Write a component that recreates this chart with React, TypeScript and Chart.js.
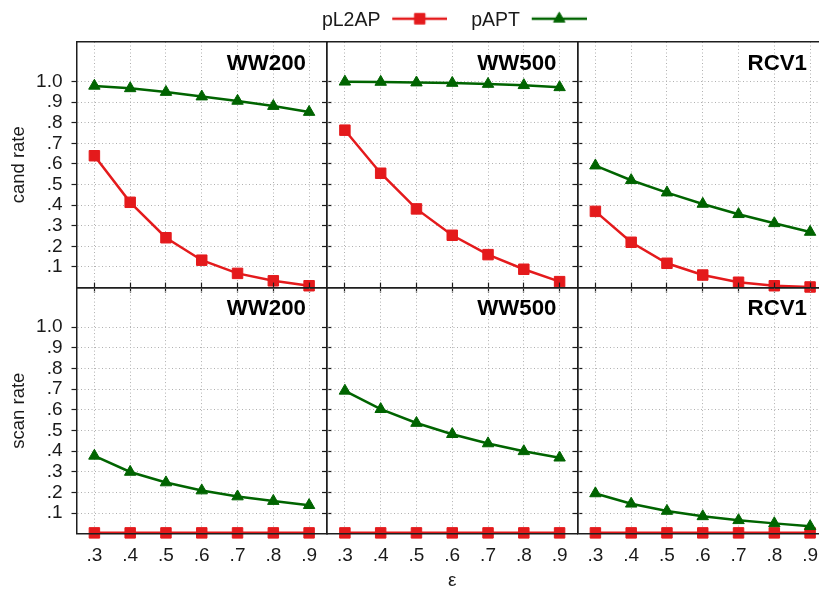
import React, { useEffect, useRef } from 'react';
import { Chart, registerables } from 'chart.js';
import { drawPoint } from 'chart.js/helpers';

Chart.register(...registerables);

// ---------------- data ----------------
const epsilonLabels = ['.3', '.4', '.5', '.6', '.7', '.8', '.9'];
const yTickValues = [0.1, 0.2, 0.3, 0.4, 0.5, 0.6, 0.7, 0.8, 0.9, 1.0];
const yTickLabels = ['.1', '.2', '.3', '.4', '.5', '.6', '.7', '.8', '.9', '1.0'];
const datasetNames = ['WW200', 'WW500', 'RCV1'];
const rowTitles = ['cand rate', 'scan rate'];
const xTitle = 'ε';
const seriesNames = ['pL2AP', 'pAPT'];

const candL2apWW200 = [0.640, 0.414, 0.242, 0.133, 0.069, 0.033, 0.009];
const candAptWW200 = [0.979, 0.967, 0.949, 0.927, 0.906, 0.881, 0.852];
const candL2apWW500 = [0.764, 0.555, 0.382, 0.254, 0.160, 0.089, 0.029];
const candAptWW500 = [0.999, 0.998, 0.995, 0.993, 0.988, 0.982, 0.972];
const candL2apRCV1 = [0.370, 0.220, 0.118, 0.061, 0.026, 0.009, 0.003];
const candAptRCV1 = [0.592, 0.521, 0.461, 0.406, 0.356, 0.312, 0.270];

const scanL2apWW200 = [0.004, 0.004, 0.004, 0.004, 0.004, 0.004, 0.004];
const scanAptWW200 = [0.377, 0.299, 0.248, 0.209, 0.180, 0.158, 0.138];
const scanL2apWW500 = [0.004, 0.004, 0.004, 0.004, 0.004, 0.004, 0.004];
const scanAptWW500 = [0.692, 0.603, 0.536, 0.482, 0.437, 0.399, 0.368];
const scanL2apRCV1 = [0.004, 0.004, 0.004, 0.004, 0.004, 0.004, 0.004];
const scanAptRCV1 = [0.195, 0.145, 0.110, 0.084, 0.065, 0.050, 0.036];

const panelSeries = [
  [
    [candL2apWW200, candAptWW200],
    [candL2apWW500, candAptWW500],
    [candL2apRCV1, candAptRCV1],
  ],
  [
    [scanL2apWW200, scanAptWW200],
    [scanL2apWW500, scanAptWW500],
    [scanL2apRCV1, scanAptRCV1],
  ],
];

// ---------------- styles / layout ----------------
const CW = 840;
const CH = 589;
const COL_LEFT = [76.5, 327, 577.5];
const COL_WIDTH = 250.5;
const ROW_TOP = [42, 287.6];
const ROW_BOTTOM = [287.6, 533.7];
const Y_MAX = 1.192;

const RED = '#e41a1c';
const GREEN = '#006400';
const AXIS = '#1e1e1e';
const GRID = '#b0b0b0';
const GRID_DASH = [1, 2.5];
const TEXT = '#1a1a1a';
const FAMILY = "'Liberation Sans', Arial, Helvetica, sans-serif";

const seriesColors = [RED, GREEN];
const seriesMarkers = ['rect', 'triangle'];
const seriesRadius = [7.4, 6.6];

const panelNamePlugin = {
  id: 'panelName',
  afterDraw(chart: any, _args: any, opts: any) {
    const { ctx, chartArea } = chart;
    ctx.save();
    ctx.font = `bold 22.3px ${FAMILY}`;
    ctx.fillStyle = '#000';
    ctx.textAlign = 'right';
    ctx.textBaseline = 'alphabetic';
    ctx.fillText(opts.text, chartArea.right - 21, chartArea.top + 27.5);
    ctx.restore();
  },
};

function panelConfig(r: number, c: number): any {
  const L = COL_LEFT[c];
  const R = L + COL_WIDTH;
  const T = ROW_TOP[r];
  const B = ROW_BOTTOM[r];
  const yw = c === 0 ? L : 0;
  const xh = r === 1 ? CH - B : 0;
  const [l2ap, apt] = panelSeries[r][c];
  const seriesData = [l2ap, apt];

  const setYTicks = (s: any) => {
    s.ticks = yTickValues.map((v) => ({ value: v }));
  };

  return {
    type: 'line',
    data: {
      labels: epsilonLabels,
      datasets: seriesNames.map((name, i) => ({
        label: name,
        data: seriesData[i],
        borderColor: seriesColors[i],
        backgroundColor: seriesColors[i],
        borderWidth: 2.5,
        pointStyle: seriesMarkers[i],
        pointRadius: seriesRadius[i],
        pointBorderWidth: 1,
        pointBackgroundColor: seriesColors[i],
        pointBorderColor: seriesColors[i],
        tension: 0,
        clip: false,
        order: i === 0 ? 1 : 0,
      })),
    },
    options: {
      responsive: false,
      maintainAspectRatio: false,
      animation: false,
      devicePixelRatio: 1,
      events: [],
      layout: {
        autoPadding: false,
        padding: {
          left: L - yw,
          right: CW - R,
          top: T,
          bottom: CH - B - xh,
        },
      },
      plugins: {
        legend: { display: false },
        tooltip: { enabled: false },
        title: { display: false },
        panelName: { text: datasetNames[c] },
      },
      scales: {
        x: {
          type: 'category',
          position: 'bottom',
          offset: true,
          afterFit: (s: any) => {
            s.height = xh;
          },
          grid: {
            display: true,
            drawOnChartArea: true,
            drawTicks: r === 0,
            tickLength: 5,
            color: GRID,
            lineWidth: 1,
            tickColor: AXIS,
            tickWidth: 1.2,
            tickBorderDash: [],
            offset: false,
          },
          border: { display: true, color: AXIS, width: 1.5, dash: GRID_DASH, z: 1 },
          ticks: {
            display: r === 1,
            color: TEXT,
            font: { family: FAMILY, size: 19 },
            padding: 11,
            maxRotation: 0,
            autoSkip: false,
          },
          title: {
            display: r === 1 && c === 1,
            text: xTitle,
            color: TEXT,
            font: { family: FAMILY, size: 19, lineHeight: 0.84 },
            padding: 0,
          },
        },
        x2: {
          type: 'category',
          position: 'top',
          offset: true,
          afterFit: (s: any) => {
            s.height = 0;
          },
          grid: {
            display: true,
            drawOnChartArea: false,
            drawTicks: r === 1,
            tickLength: 5,
            color: AXIS,
            tickColor: AXIS,
            tickWidth: 1.2,
            tickBorderDash: [],
          },
          border: { display: true, color: AXIS, width: 1.5, z: 1 },
          ticks: { display: false },
        },
        y: {
          type: 'linear',
          position: 'left',
          min: 0,
          max: Y_MAX,
          afterBuildTicks: setYTicks,
          afterFit: (s: any) => {
            s.width = yw;
          },
          grid: {
            display: true,
            drawOnChartArea: true,
            drawTicks: true,
            tickLength: 5,
            color: GRID,
            lineWidth: 1,
            tickColor: AXIS,
            tickWidth: 1.2,
            tickBorderDash: [],
          },
          border: { display: true, color: AXIS, width: 1.5, dash: GRID_DASH, z: 1 },
          ticks: {
            display: c === 0,
            color: TEXT,
            font: { family: FAMILY, size: 19 },
            padding: 9,
            callback: (_v: any, i: number) => yTickLabels[i],
          },
          title: {
            display: c === 0,
            text: rowTitles[r],
            color: TEXT,
            font: { family: FAMILY, size: 18.5 },
            padding: { top: 7.4, bottom: 0 },
          },
        },
        y2: {
          type: 'linear',
          position: 'right',
          min: 0,
          max: Y_MAX,
          afterBuildTicks: setYTicks,
          afterFit: (s: any) => {
            s.width = 0;
          },
          grid: {
            display: true,
            drawOnChartArea: false,
            drawTicks: true,
            tickLength: 5,
            color: AXIS,
            tickColor: AXIS,
            tickWidth: 1.2,
            tickBorderDash: [],
          },
          border: { display: true, color: AXIS, width: 1.5, z: 1 },
          ticks: { display: false },
        },
      },
    },
    plugins: [panelNamePlugin],
  };
}

function makeLegendIcon(color: string, style: string, radius: number) {
  const cv = document.createElement('canvas');
  cv.width = 57;
  cv.height = 22;
  const ctx = cv.getContext('2d') as CanvasRenderingContext2D;
  ctx.strokeStyle = color;
  ctx.lineWidth = 2.5;
  ctx.beginPath();
  ctx.moveTo(2, 9);
  ctx.lineTo(57, 9);
  ctx.stroke();
  ctx.fillStyle = color;
  ctx.strokeStyle = color;
  ctx.lineWidth = 1;
  drawPoint(ctx, { pointStyle: style as any, radius, borderWidth: 1, rotation: 0 } as any, 29.5, 9);
  return cv;
}

function legendConfig(): any {
  const icons = seriesNames.map((_, i) => makeLegendIcon(seriesColors[i], seriesMarkers[i], seriesRadius[i]));
  return {
    type: 'line',
    data: {
      labels: [],
      datasets: seriesNames.map((name, i) => ({
        label: name,
        data: [],
        borderColor: seriesColors[i],
        backgroundColor: seriesColors[i],
      })),
    },
    options: {
      responsive: false,
      maintainAspectRatio: false,
      animation: false,
      devicePixelRatio: 1,
      events: [],
      layout: { padding: { left: 68.6, right: 0, top: 0, bottom: 0 } },
      scales: { x: { display: false }, y: { display: false } },
      plugins: {
        tooltip: { enabled: false },
        legend: {
          display: true,
          position: 'top',
          align: 'center',
          rtl: true,
          reverse: true,
          labels: {
            usePointStyle: true,
            pointStyleWidth: 57,
            padding: 24,
            color: TEXT,
            font: { family: FAMILY, size: 19.5 },
            generateLabels: (chart: any) =>
              chart.data.datasets.map((ds: any, i: number) => ({
                text: ds.label,
                pointStyle: icons[i],
                fillStyle: seriesColors[i],
                strokeStyle: seriesColors[i],
                lineWidth: 0,
                hidden: false,
                datasetIndex: i,
                fontColor: TEXT,
              })),
          },
        },
      },
    },
  };
}

export default function App() {
  const legendRef = useRef<HTMLCanvasElement | null>(null);
  const panelRefs = useRef<(HTMLCanvasElement | null)[]>([]);

  useEffect(() => {
    const charts: Chart[] = [];
    if (legendRef.current) charts.push(new Chart(legendRef.current, legendConfig()));
    for (let r = 0; r < 2; r++) {
      for (let c = 0; c < 3; c++) {
        const cv = panelRefs.current[r * 3 + c];
        if (cv) charts.push(new Chart(cv, panelConfig(r, c)));
      }
    }
    return () => charts.forEach((ch) => ch.destroy());
  }, []);

  const canvasStyle: React.CSSProperties = {
    position: 'absolute',
    left: 0,
    top: 0,
    width: CW,
    height: CH,
  };

  return (
    <div
      style={{
        position: 'fixed',
        left: 0,
        top: 0,
        width: 819,
        height: 589,
        overflow: 'hidden',
        background: '#fff',
      }}
    >
      <canvas
        ref={legendRef}
        width={CW}
        height={120}
        style={{ position: 'absolute', left: 0, top: -13, width: CW, height: 120 }}
      />
      {[0, 1, 2, 3, 4, 5].map((k) => (
        <canvas
          key={k}
          ref={(el) => {
            panelRefs.current[k] = el;
          }}
          width={CW}
          height={CH}
          style={canvasStyle}
        />
      ))}
    </div>
  );
}
